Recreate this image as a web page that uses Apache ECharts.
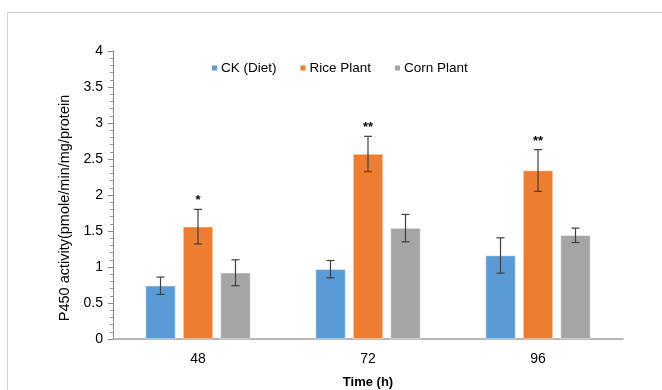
<!DOCTYPE html>
<html>
<head>
<meta charset="utf-8">
<script src="https://cdn.jsdelivr.net/npm/echarts@6/dist/echarts.min.js"></script>
<style>
  html, body { margin: 0; padding: 0; background: #fff; }
  #main { width: 662px; height: 390px; }
</style>
</head>
<body>
<div id="main"></div>
<script>
// 时间 (h)
var times = ['48', '72', '96'];
var seriesNames = ['CK (Diet)', 'Rice Plant', 'Corn Plant'];
// 平均值
var ckMean = [0.74, 0.97, 1.16];
var riceMean = [1.56, 2.57, 2.34];
var cornMean = [0.92, 1.54, 1.44];
// 误差
var ckErr = [0.12, 0.12, 0.245];
var riceErr = [0.24, 0.245, 0.29];
var cornErr = [0.18, 0.19, 0.10];
// 显著性标记
var riceStars = ['*', '**', '**'];

var colors = ['#5b9bd5', '#ed7d31', '#a5a5a5'];
var barW = 30;
var gapRatio = 0.25;

function errData(mean, err, stars) {
  var out = [];
  for (var i = 0; i < mean.length; i++) {
    out.push([i, mean[i] - err[i], mean[i] + err[i], stars ? stars[i] : '']);
  }
  return out;
}

function errSeries(k, mean, err, stars) {
  return {
    type: 'custom',
    name: seriesNames[k] + ' err',
    z: 5,
    renderItem: function (params, api) {
      var x = api.value(0);
      var lo = api.coord([x, api.value(1)]);
      var hi = api.coord([x, api.value(2)]);
      var shift = (k - 1) * barW * (1 + gapRatio);
      var cx = lo[0] + shift;
      var cap = 4;
      var style = { stroke: '#404040', lineWidth: 1.2 };
      var children = [
        { type: 'line', shape: { x1: cx, y1: lo[1], x2: cx, y2: hi[1] }, style: style },
        { type: 'line', shape: { x1: cx - cap, y1: lo[1], x2: cx + cap, y2: lo[1] }, style: style },
        { type: 'line', shape: { x1: cx - cap, y1: hi[1], x2: cx + cap, y2: hi[1] }, style: style }
      ];
      var s = api.value(3);
      if (s) {
        children.push({
          type: 'text',
          style: {
            x: cx, y: hi[1] - 2, text: s, align: 'center', verticalAlign: 'bottom',
            fill: '#000', font: 'bold 13px "Liberation Sans", Arial'
          }
        });
      }
      return { type: 'group', children: children };
    },
    data: errData(mean, err, stars)
  };
}

var chart = echarts.init(document.getElementById('main'), null, { renderer: 'canvas' });

var option = {
  animation: false,
  backgroundColor: '#fff',
  color: colors,
  textStyle: { fontFamily: '"Liberation Sans", Arial, sans-serif' },
  graphic: [{
    type: 'rect',
    shape: { x: 7.5, y: 12.5, width: 700, height: 400 },
    style: { fill: 'none', stroke: '#d0d0d0', lineWidth: 1 },
    silent: true
  }],
  legend: {
    data: seriesNames,
    left: 205,
    top: 56,
    itemWidth: 7,
    itemHeight: 7,
    itemGap: 22,
    icon: 'rect',
    textStyle: { fontSize: 13.5, color: '#000', padding: [0, 0, 0, -2] }
  },
  grid: { left: 113, right: 39, top: 51, bottom: 51, outerBoundsMode: 'none' },
  xAxis: {
    type: 'category',
    data: times,
    name: 'Time (h)',
    nameLocation: 'middle',
    nameGap: 37,
    nameTextStyle: { fontSize: 13, color: '#000', fontWeight: 'bold' },
    axisLine: { lineStyle: { color: '#a0a0a0', width: 1.5 } },
    axisTick: { show: false },
    axisLabel: { fontSize: 14, color: '#000', margin: 13 }
  },
  yAxis: {
    type: 'value',
    min: 0,
    max: 4,
    interval: 0.5,
    name: 'P450 activity(pmole/min/mg/protein',
    nameLocation: 'middle',
    nameGap: 40,
    nameTextStyle: { fontSize: 14.5, color: '#000', padding: [0, 26, 0, 0] },
    axisLine: { show: true, lineStyle: { color: '#888' } },
    axisTick: { show: true, inside: false, length: 5, lineStyle: { color: '#888' } },
    minorTick: { show: true, splitNumber: 5, length: 3, lineStyle: { color: '#999' } },
    splitLine: { show: false },
    axisLabel: { fontSize: 14, color: '#000', margin: 10 }
  },
  series: [
    { type: 'bar', name: seriesNames[0], data: ckMean, barWidth: barW, barGap: '25%',
      itemStyle: { color: colors[0], borderColor: '#fff', borderWidth: 0.5 } },
    { type: 'bar', name: seriesNames[1], data: riceMean, barWidth: barW, barGap: '25%',
      itemStyle: { color: colors[1], borderColor: '#fff', borderWidth: 0.5 } },
    { type: 'bar', name: seriesNames[2], data: cornMean, barWidth: barW, barGap: '25%',
      itemStyle: { color: colors[2], borderColor: '#fff', borderWidth: 0.5 } },
    errSeries(0, ckMean, ckErr),
    errSeries(1, riceMean, riceErr, riceStars),
    errSeries(2, cornMean, cornErr)
  ]
};
chart.setOption(option);
</script>
</body>
</html>
